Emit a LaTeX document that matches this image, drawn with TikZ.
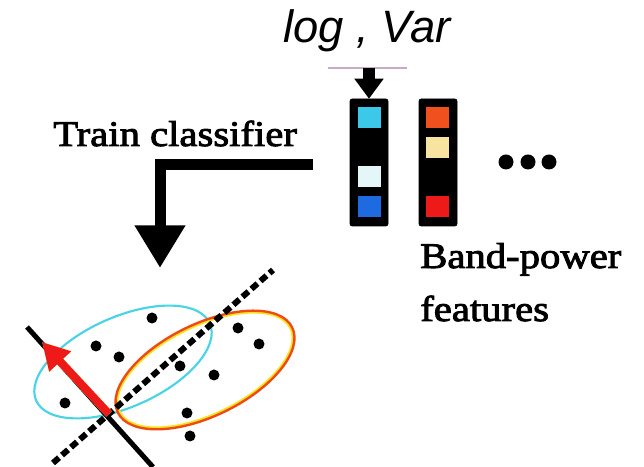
\documentclass[tikz,border=0pt]{standalone}
\usepackage{fontspec}
\setmainfont{Liberation Serif}
\newfontfamily\captionfont{Liberation Serif}[FakeBold=2.5, FakeStretch=1.13]
\newfontfamily\formulafont{Liberation Sans}
\usetikzlibrary{arrows.meta}

\definecolor{featcyan}{HTML}{3CC8E8}
\definecolor{featpale}{HTML}{E4F6F8}
\definecolor{featblue}{HTML}{1E6AE0}
\definecolor{featorange}{HTML}{F0501E}
\definecolor{featcream}{HTML}{F6E4A0}
\definecolor{featred}{HTML}{EE1A1A}
\definecolor{classcyan}{HTML}{48D4E4}
\definecolor{classorange}{HTML}{F04A14}
\definecolor{classyellow}{HTML}{F8E41C}

\tikzset{
  caption/.style={font=\captionfont\fontsize{27pt}{30pt}\selectfont, inner sep=0pt},
  featcol/.style={fill=black, draw=black, rounded corners=1.5pt, minimum width=28.5pt, minimum height=95.25pt, inner sep=0pt},
  featcell/.style={minimum width=17.25pt, minimum height=15.75pt, inner sep=0pt},
  bigarrow/.style={line width=8.25pt, -{Triangle[length=32pt,width=36pt]}},
  smallarrow/.style={line width=9pt, -{Triangle[length=15pt,width=21pt]}},
  sample/.style={fill=black},
  boundary/.style={line width=4.5pt, dash pattern=on 6pt off 3pt},
  projection/.style={line width=3.75pt},
  weightvec/.style={line width=6pt, -{Triangle[length=20pt,width=21pt]}},
}

\begin{document}
\begin{tikzpicture}[x=0.75pt,y=0.75pt]
\useasboundingbox (0,0) rectangle (644,467);

% formula above the feature columns
\node[font=\formulafont\itshape\fontsize{34pt}{36pt}\selectfont, anchor=base, inner sep=0pt] (logvar) at (367,424) {log , Var};
\coordinate (barL) at (328,399);
\coordinate (barR) at (407,399);
\coordinate (barmid) at (369,399);
\draw[line width=1.8pt, color=gray!55!violet!45] (barL) -- (barR);

% band-power feature columns
\node[featcol] (col1) at (369,304.5) {};
\node[featcol] (col2) at (438,304.5) {};
\node[featcell, fill=featcyan]   (c1a) at (369.5,349.5) {};
\node[featcell, fill=featpale]   (c1b) at (369.5,290) {};
\node[featcell, fill=featblue]   (c1c) at (369.5,260) {};
\node[featcell, fill=featorange] (c2a) at (437.5,349.5) {};
\node[featcell, fill=featcream]  (c2b) at (437.5,319) {};
\node[featcell, fill=featred]    (c2c) at (437.5,260) {};

\draw[smallarrow] (barmid) -- (col1.north);

% ellipsis dots
\fill (506,305) circle [radius=7.5];
\fill (528,305) circle [radius=7.5];
\fill (549,305) circle [radius=7.5];

% labels
\node[caption, anchor=base west] (bp1) at (420,199) {Band-power};
\node[caption, anchor=base west] (bp2) at (420,146) {features};
\node[caption, anchor=base west] (train) at (53,321) {Train classifier};

% bent arrow to the classifier
\coordinate (trainsrc) at (313,302);
\coordinate (plottop) at (160,199);
\draw[bigarrow] (trainsrc) -| (plottop);

% classifier sketch
\coordinate (sepA) at (53,4);
\coordinate (sepB) at (273,197);
\coordinate (projA) at (27,140);
\coordinate (projB) at (153,0);
\coordinate (cross) at (109,53);
\coordinate (wtip) at (42,125);

\draw[color=classcyan, line width=1.6pt, rotate around={24:(123,105)}] (123,105) ellipse [x radius=95, y radius=45];
\draw[color=classyellow, line width=1.5pt, rotate around={26:(205,97)}] (205,97) ellipse [x radius=95, y radius=44];
\draw[color=classorange, line width=1.8pt, rotate around={26:(205,97)}] (205,97) ellipse [x radius=97, y radius=46];

\draw[projection] (projA) -- (projB);
\draw[boundary] (sepA) -- (sepB);
% weight vector with its yellow fringe
\draw[weightvec, color=classyellow, shift={(2.5,2)}] (cross) -- (wtip);
\draw[weightvec, color=featred] (cross) -- (wtip);

\foreach \px/\py in {152/149, 96/121, 119/110, 65/64, 180/101, 214/92, 238/139, 259/123, 187/54, 190/31}
  \fill[sample] (\px,\py) circle [radius=5.5];
\end{tikzpicture}
\end{document}
